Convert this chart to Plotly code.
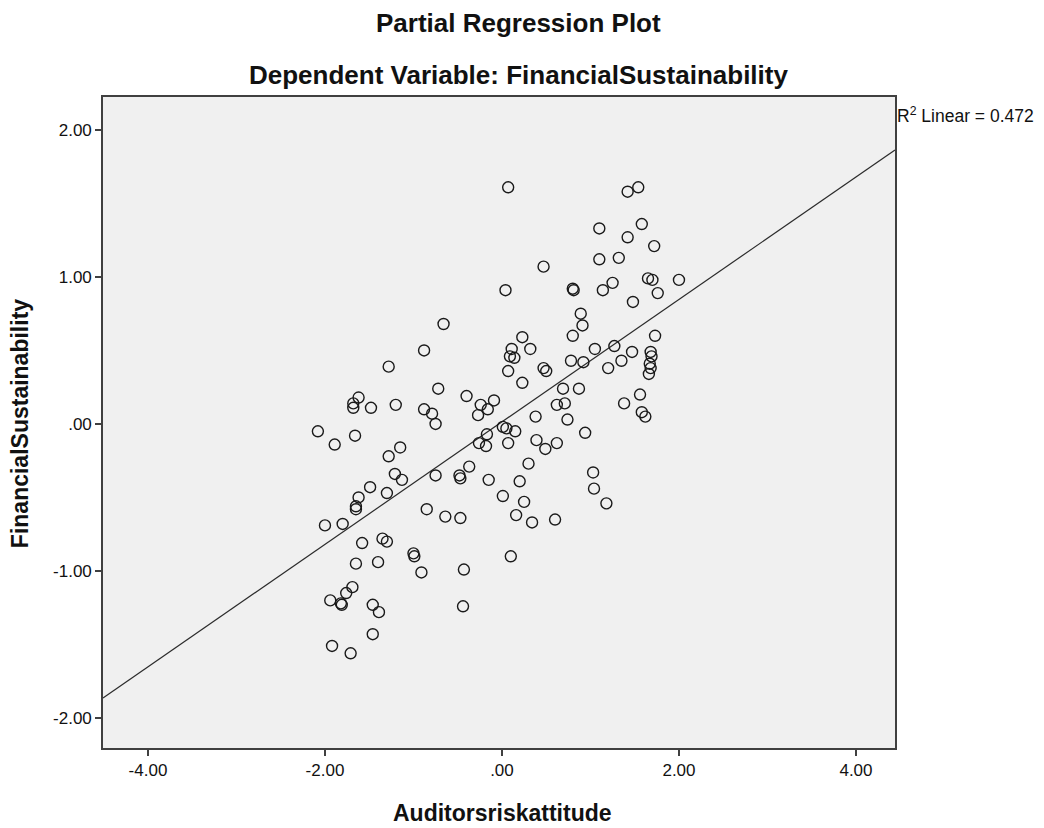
import plotly.graph_objects as go

# Partial regression residuals (x: Auditorsriskattitude, y: FinancialSustainability)
x_vals = [
    -0.66, -0.88, -1.28, -0.72, -0.40, -0.24, -0.09, -0.16, -0.27, -1.62,
    -1.68, -1.68, -1.48, -1.20, -0.88, -0.79, -0.75, -2.08, -1.89, -1.66,
    -0.17, -0.26, -0.18, -1.15, -1.28, -0.37, -0.75, -0.48, -0.47, -0.15,
    -1.21, -1.13, -1.49, -1.30, -1.62, -1.65, -1.65, -2.00, -1.80, -0.85,
    -0.64, -0.47, -1.58, -1.35, -1.30, -1.00, -0.99, -1.65, -1.40, -0.91,
    -0.43, -1.69, -1.76, -1.94, -1.82, -1.81, -1.46, -1.39, -0.44, -1.46,
    -1.92, -1.71, 0.07, 1.42, 1.54, 1.10, 1.58, 1.42, 1.72, 0.47,
    1.10, 1.32, 0.04, 0.80, 0.81, 1.14, 1.25, 1.65, 1.70, 2.00,
    1.76, 1.48, 0.89, 0.91, 0.80, 1.73, 0.23, 0.32, 0.11, 0.09,
    0.14, 1.05, 1.27, 1.47, 1.35, 1.20, 0.78, 0.92, 1.68, 1.69,
    1.67, 1.68, 1.66, 0.47, 0.50, 0.07, 0.23, 0.69, 0.87, 0.62,
    0.71, 1.56, 1.38, 1.58, 1.62, 0.38, 0.74, 0.01, 0.05, 0.15,
    0.07, 0.94, 0.39, 0.49, 0.62, 0.30, 1.03, 1.04, 1.18, 0.20,
    0.01, 0.25, 0.16, 0.34, 0.60, 0.10,
]
y_vals = [
    0.68, 0.50, 0.39, 0.24, 0.19, 0.13, 0.16, 0.10, 0.06, 0.18,
    0.14, 0.11, 0.11, 0.13, 0.10, 0.07, 0.00, -0.05, -0.14, -0.08,
    -0.07, -0.13, -0.15, -0.16, -0.22, -0.29, -0.35, -0.35, -0.37, -0.38,
    -0.34, -0.38, -0.43, -0.47, -0.50, -0.56, -0.58, -0.69, -0.68, -0.58,
    -0.63, -0.64, -0.81, -0.78, -0.80, -0.88, -0.90, -0.95, -0.94, -1.01,
    -0.99, -1.11, -1.15, -1.20, -1.22, -1.23, -1.23, -1.28, -1.24, -1.43,
    -1.51, -1.56, 1.61, 1.58, 1.61, 1.33, 1.36, 1.27, 1.21, 1.07,
    1.12, 1.13, 0.91, 0.92, 0.91, 0.91, 0.96, 0.99, 0.98, 0.98,
    0.89, 0.83, 0.75, 0.67, 0.60, 0.60, 0.59, 0.51, 0.51, 0.46,
    0.45, 0.51, 0.53, 0.49, 0.43, 0.38, 0.43, 0.42, 0.49, 0.46,
    0.41, 0.38, 0.34, 0.38, 0.36, 0.36, 0.28, 0.24, 0.24, 0.13,
    0.14, 0.20, 0.14, 0.08, 0.05, 0.05, 0.03, -0.02, -0.03, -0.05,
    -0.13, -0.06, -0.11, -0.17, -0.13, -0.27, -0.33, -0.44, -0.54, -0.39,
    -0.49, -0.53, -0.62, -0.67, -0.65, -0.90,
]

# Fit line as shown in the chart
fit_intercept = 0.014
fit_slope = 0.4165
r2_label = "R<sup>2</sup> Linear = 0.472"

x_range = [-4.508, 4.441]
y_range = [-2.204, 2.224]
x_ticks = [-4, -2, 0, 2, 4]
x_tick_text = ["-4.00", "-2.00", ".00", "2.00", "4.00"]
y_ticks = [-2, -1, 0, 1, 2]
y_tick_text = ["-2.00", "-1.00", ".00", "1.00", "2.00"]

title_main = "Partial Regression Plot"
title_sub = "Dependent Variable: FinancialSustainability"
x_title = "Auditorsriskattitude"
y_title = "FinancialSustainability"

FONT = "Liberation Sans, Arial, sans-serif"

fig = go.Figure()

line_x = [x_range[0], x_range[1]]
line_y = [fit_intercept + fit_slope * v for v in line_x]
fig.add_trace(go.Scatter(
    x=line_x, y=line_y, mode="lines",
    line=dict(color="#2b2b2b", width=1.2),
    hoverinfo="skip", showlegend=False,
))

fig.add_trace(go.Scatter(
    x=x_vals, y=y_vals, mode="markers",
    marker=dict(symbol="circle-open", size=11, color="#1a1a1a",
                line=dict(width=1.4, color="#1a1a1a")),
    showlegend=False,
))

axis_common = dict(
    showgrid=False, zeroline=False, showline=True, mirror=True,
    linecolor="#404040", linewidth=1.6,
    ticks="outside", ticklen=6, tickwidth=1.6, tickcolor="#404040",
    tickfont=dict(family=FONT, size=17, color="#111"),
)

fig.update_layout(
    width=1036, height=820,
    margin=dict(l=95, r=149, t=89, b=80),
    paper_bgcolor="white", plot_bgcolor="#f0f0f0",
    xaxis=dict(range=x_range, tickvals=x_ticks, ticktext=x_tick_text, **axis_common),
    yaxis=dict(range=y_range, tickvals=y_ticks, ticktext=y_tick_text, **axis_common),
    annotations=[
        dict(text=f"<b>{title_main}</b>", xref="paper", yref="paper",
             x=0.525, y=1.1137, xanchor="center", yanchor="middle",
             showarrow=False, font=dict(family=FONT, size=26, color="#111")),
        dict(text=f"<b>{title_sub}</b>", xref="paper", yref="paper",
             x=0.525, y=1.0338, xanchor="center", yanchor="middle",
             showarrow=False, font=dict(family=FONT, size=26, color="#111")),
        dict(text=f"<b>{x_title}</b>", xref="paper", yref="paper",
             x=0.505, y=-0.0998, xanchor="center", yanchor="middle",
             showarrow=False, font=dict(family=FONT, size=23, color="#111")),
        dict(text=f"<b>{y_title}</b>", xref="paper", yref="paper",
             x=-0.1048, y=0.499, xanchor="center", yanchor="middle", textangle=-90,
             showarrow=False, font=dict(family=FONT, size=23, color="#111")),
        dict(text=r2_label, xref="paper", yref="paper",
             x=1.0, y=0.972, xanchor="left", yanchor="middle",
             showarrow=False, font=dict(family=FONT, size=17.5, color="#111")),
    ],
)

fig.write_html("out.html")
